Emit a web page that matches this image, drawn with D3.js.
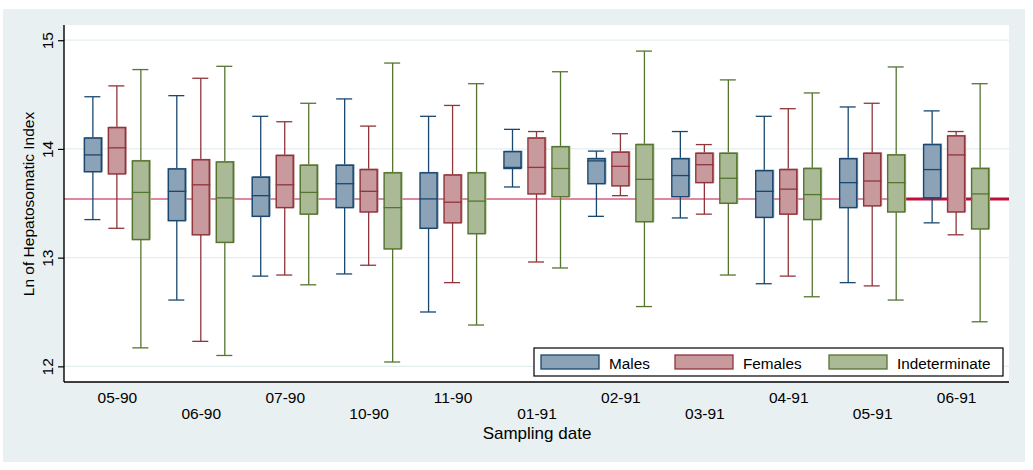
<!DOCTYPE html>
<html>
<head>
<meta charset="utf-8">
<script src="https://cdn.jsdelivr.net/npm/d3@7"></script>
<style>
  html, body { margin: 0; padding: 0; background: #ffffff; }
  svg { display: block; font-family: "Liberation Sans", Arial, sans-serif; }
</style>
</head>
<body>
<svg id="chart" width="1033" height="470"></svg>
<script>
// ---- Data ----
const categories = ["05-90","06-90","07-90","10-90","11-90","01-91","02-91","03-91","04-91","05-91","06-91"];
const seriesNames = ["Males","Females","Indeterminate"];
const yTicks = [12, 13, 14, 15];
const refLine = 13.54;
// each entry: [lower whisker, Q1, median, Q3, upper whisker]
const males = [
  [13.35, 13.79, 13.945, 14.10, 14.48],
  [12.61, 13.34, 13.61, 13.816, 14.49],
  [12.83, 13.38, 13.57, 13.74, 14.30],
  [12.85, 13.46, 13.68, 13.85, 14.46],
  [12.50, 13.27, 13.54, 13.78, 14.30],
  [13.65, 13.82, 13.83, 13.975, 14.18],
  [13.38, 13.68, 13.89, 13.91, 13.98],
  [13.365, 13.56, 13.755, 13.91, 14.16],
  [12.76, 13.37, 13.61, 13.80, 14.30],
  [12.77, 13.46, 13.69, 13.91, 14.386],
  [13.32, 13.55, 13.81, 14.04, 14.35]
];
const females = [
  [13.27, 13.77, 14.01, 14.196, 14.58],
  [12.23, 13.21, 13.67, 13.90, 14.65],
  [12.84, 13.46, 13.67, 13.94, 14.25],
  [12.93, 13.42, 13.61, 13.81, 14.21],
  [12.77, 13.32, 13.51, 13.76, 14.40],
  [12.96, 13.586, 13.83, 14.10, 14.16],
  [13.57, 13.66, 13.84, 13.97, 14.14],
  [13.40, 13.69, 13.855, 13.96, 14.04],
  [12.83, 13.40, 13.63, 13.81, 14.37],
  [12.74, 13.476, 13.705, 13.96, 14.42],
  [13.21, 13.42, 13.945, 14.12, 14.16]
];
const indeterminate = [
  [12.17, 13.166, 13.60, 13.89, 14.73],
  [12.10, 13.14, 13.55, 13.88, 14.76],
  [12.75, 13.40, 13.60, 13.85, 14.42],
  [12.04, 13.08, 13.46, 13.78, 14.79],
  [12.38, 13.22, 13.52, 13.78, 14.60],
  [12.905, 13.56, 13.82, 14.02, 14.71],
  [12.55, 13.33, 13.72, 14.04, 14.90],
  [12.84, 13.50, 13.73, 13.96, 14.635],
  [12.64, 13.35, 13.58, 13.82, 14.515],
  [12.61, 13.42, 13.69, 13.945, 14.754],
  [12.41, 13.264, 13.586, 13.82, 14.60]
];
const seriesData = [males, females, indeterminate];
const strokeColors = ["#1a476f", "#90353b", "#55752f"];
const fillColors = ["#8ca3b7", "#c89a9d", "#aaba97"];

// ---- Layout ----
const svg = d3.select("#chart");
const plot = { left: 64, right: 1009, top: 25, bottom: 382 };

// background regions
svg.append("rect").attr("x", 3).attr("y", 9).attr("width", 1022).attr("height", 453).attr("fill", "#e8f0f1");
svg.append("rect").attr("x", plot.left).attr("y", plot.top)
  .attr("width", plot.right - plot.left).attr("height", plot.bottom - plot.top).attr("fill", "#ffffff");

const x = d3.scalePoint().domain(categories).range([plot.left, plot.right]).padding(0.63);
const xSub = d3.scaleBand().domain(seriesNames).range([-32.5, 32.5]).paddingInner(0.2917).paddingOuter(0);
const y = d3.scaleLinear().domain([11.856, 15.14]).range([plot.bottom, plot.top]);

// gridlines
svg.append("g").selectAll("line").data(yTicks).join("line")
  .attr("x1", plot.left).attr("x2", plot.right)
  .attr("y1", d => y(d)).attr("y2", d => y(d))
  .attr("stroke", "#e3eeef").attr("stroke-width", 1.2);

// reference line (thin across, thicker at right end)
svg.append("line")
  .attr("x1", plot.left).attr("x2", plot.right)
  .attr("y1", y(refLine)).attr("y2", y(refLine))
  .attr("stroke", "#c0103a").attr("stroke-width", 1.1);
svg.append("line")
  .attr("x1", x("05-91") + xSub("Indeterminate") + xSub.bandwidth()).attr("x2", plot.right)
  .attr("y1", y(refLine)).attr("y2", y(refLine))
  .attr("stroke", "#c0103a").attr("stroke-width", 3);

// boxes
const bw = xSub.bandwidth();
seriesNames.forEach((name, si) => {
  const g = svg.append("g");
  const data = seriesData[si].map((v, i) => ({ cat: categories[i], v }));
  const grp = g.selectAll("g").data(data).join("g")
    .attr("transform", d => `translate(${x(d.cat) + xSub(name)},0)`);
  const sc = strokeColors[si];
  // whiskers
  grp.append("line").attr("x1", bw / 2).attr("x2", bw / 2)
    .attr("y1", d => y(d.v[3])).attr("y2", d => y(d.v[4]))
    .attr("stroke", sc).attr("stroke-width", 1.3);
  grp.append("line").attr("x1", bw / 2).attr("x2", bw / 2)
    .attr("y1", d => y(d.v[1])).attr("y2", d => y(d.v[0]))
    .attr("stroke", sc).attr("stroke-width", 1.3);
  // caps
  [0, 4].forEach(k => {
    grp.append("line").attr("x1", 0).attr("x2", bw - 1)
      .attr("y1", d => y(d.v[k])).attr("y2", d => y(d.v[k]))
      .attr("stroke", sc).attr("stroke-width", 1.3);
  });
  // fill (slightly offset like the reference)
  grp.append("rect").attr("x", 0.5).attr("width", bw + 1)
    .attr("y", d => y(d.v[3]) - 1).attr("height", d => y(d.v[1]) - y(d.v[3]) + 1)
    .attr("fill", fillColors[si]);
  // outline
  grp.append("rect").attr("x", 0).attr("width", bw)
    .attr("y", d => y(d.v[3])).attr("height", d => y(d.v[1]) - y(d.v[3]))
    .attr("fill", "none").attr("stroke", sc).attr("stroke-width", 1.5);
  // median
  grp.append("line").attr("x1", -0.5).attr("x2", bw + 1)
    .attr("y1", d => y(d.v[2])).attr("y2", d => y(d.v[2]))
    .attr("stroke", sc).attr("stroke-width", 1.3);
});

// y axis
const yAxis = svg.append("g").attr("transform", `translate(${plot.left},0)`)
  .call(d3.axisLeft(y).tickValues(yTicks).tickSize(6).tickFormat(d3.format("d")));
yAxis.select(".domain").attr("d", `M0,${plot.top}V${plot.bottom}`).attr("stroke", "#000").attr("stroke-width", 1.4);
yAxis.selectAll(".tick line").attr("stroke", "#000").attr("stroke-width", 1.2);
yAxis.selectAll(".tick text")
  .attr("transform", "rotate(-90)")
  .attr("x", 0).attr("y", -11).attr("dy", 0)
  .style("text-anchor", "middle")
  .attr("fill", "#000").style("font-size", "15.5px")
  .style("font-family", "'Liberation Sans', Arial, sans-serif");

// x axis
const xAxis = svg.append("g").attr("transform", `translate(0,${plot.bottom})`)
  .call(d3.axisBottom(x).tickSize(0));
xAxis.select(".domain").attr("d", `M${plot.left},0H${plot.right}`).attr("stroke", "#000").attr("stroke-width", 1.4);
xAxis.selectAll(".tick text")
  .attr("y", (d, i) => i % 2 === 0 ? 21.3 : 37.3).attr("dy", 0)
  .attr("fill", "#000").style("font-size", "15.5px")
  .style("font-family", "'Liberation Sans', Arial, sans-serif");

// axis titles
svg.append("text").attr("transform", "translate(33.5,204) rotate(-90)")
  .attr("text-anchor", "middle").style("font-size", "15.5px").attr("fill", "#000")
  .text("Ln of Hepatosomatic Index");
svg.append("text").attr("x", 537).attr("y", 439)
  .attr("text-anchor", "middle").style("font-size", "17px").attr("fill", "#000")
  .text("Sampling date");

// legend
const legend = svg.append("g");
legend.append("rect").attr("x", 534).attr("y", 348).attr("width", 469).attr("height", 28)
  .attr("fill", "#fff").attr("stroke", "#000").attr("stroke-width", 1.2);
const legendX = [541, 675, 829];
seriesNames.forEach((name, i) => {
  legend.append("rect").attr("x", legendX[i]).attr("y", 355).attr("width", 58).attr("height", 14)
    .attr("fill", fillColors[i]).attr("stroke", strokeColors[i]).attr("stroke-width", 1.3);
  legend.append("text").attr("x", legendX[i] + 68).attr("y", 369)
    .style("font-size", "15.3px").attr("fill", "#000").text(name);
});
</script>
</body>
</html>
